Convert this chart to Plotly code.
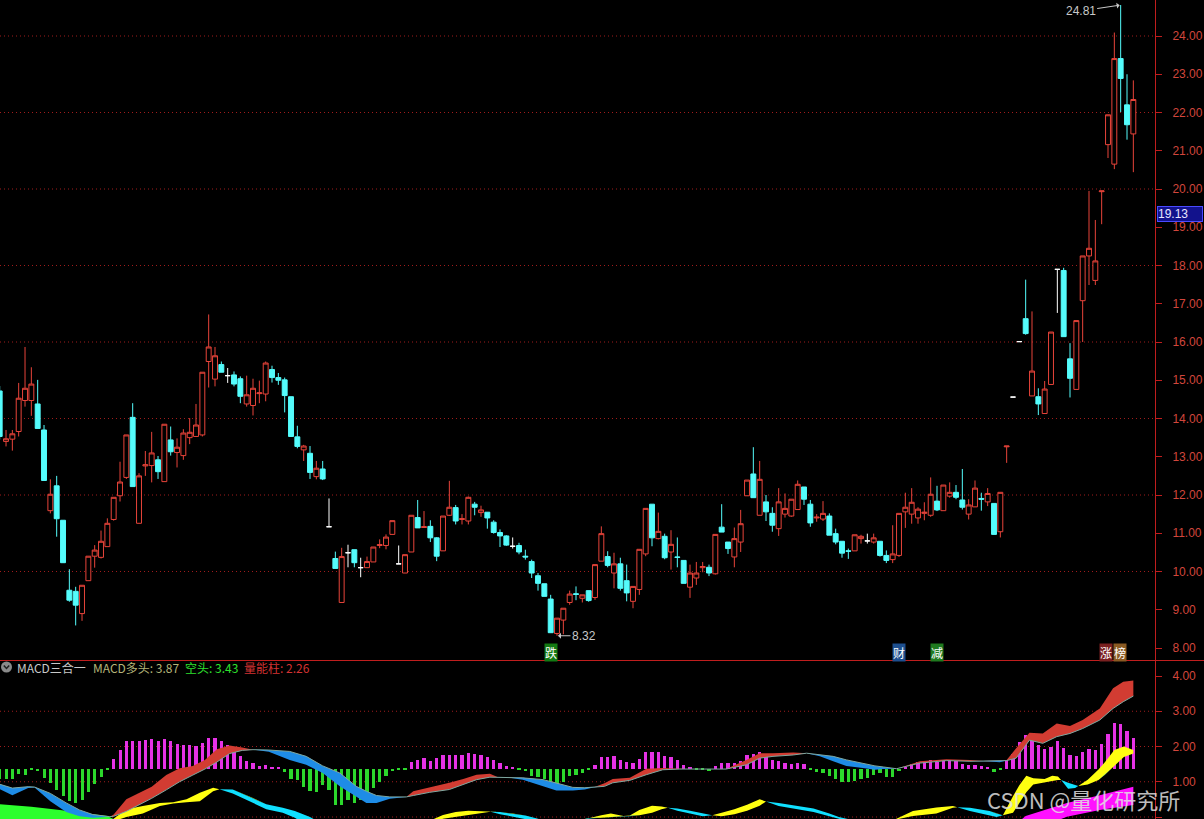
import plotly.graph_objects as go

# ---------------- data ----------------
idx = list(range(180))
opens = [14.72,13.40,13.46,13.66,14.47,14.47,14.38,13.70,11.59,12.24,11.34,9.51,9.48,8.90,9.76,10.40,10.37,10.65,11.36,11.98,
         12.46,14.03,11.26,12.76,12.77,12.92,12.35,13.44,13.11,13.03,13.50,13.53,13.57,15.49,15.03,15.41,15.12,15.14,15.04,14.38,
         14.34,14.65,14.64,15.28,15.07,15.01,14.57,13.52,13.18,13.09,12.48,12.68,11.17,10.34,9.19,10.49,10.57,10.10,10.10,10.25,
         10.68,10.68,10.97,10.20,9.96,10.51,11.41,11.15,11.18,10.88,10.54,11.47,11.67,11.36,11.32,11.76,11.54,11.55,11.29,11.02,
         10.93,10.66,10.68,10.40,10.26,9.89,9.68,9.28,8.38,8.73,9.19,9.42,9.30,9.50,9.32,10.27,10.39,9.96,10.20,9.76,
         9.22,9.53,10.46,11.76,10.86,10.92,10.51,10.38,10.29,9.59,9.83,10.10,10.11,9.94,11.16,10.77,10.38,10.77,11.98,12.55,
         11.47,11.82,11.52,11.12,11.50,11.45,11.62,12.21,11.76,11.40,11.37,11.45,10.99,10.79,10.54,10.54,10.86,10.80,10.77,10.79,
         10.42,10.31,10.42,11.56,11.50,11.40,11.52,11.47,11.84,11.59,11.97,12.07,11.87,11.50,11.69,11.91,11.82,11.78,11.04,13.26,
         14.56,16.01,16.61,14.59,14.57,14.13,14.89,17.90,17.87,15.56,14.76,17.08,18.25,17.61,19.93,21.16,20.65,23.41,22.20,21.44]
highs = [14.85,13.70,13.70,14.93,15.87,15.34,15.01,13.83,12.41,12.50,11.34,10.06,9.60,9.64,10.40,10.69,11.07,11.39,11.94,12.87,
         13.57,14.40,12.57,13.15,13.65,13.02,13.85,13.79,13.48,13.72,14.01,14.38,15.21,16.72,15.87,15.49,15.32,15.23,15.10,15.12,
         15.04,14.99,15.49,15.38,15.19,15.07,14.57,13.81,13.31,13.28,12.89,12.89,11.91,10.52,10.62,10.70,10.57,10.36,10.39,10.64,
         10.84,10.97,11.33,10.68,10.44,11.47,11.87,11.58,11.34,10.90,11.45,12.37,11.74,11.50,11.96,11.82,11.72,11.55,11.34,11.10,
         10.95,10.89,10.75,10.57,10.31,9.96,9.68,9.39,8.78,9.04,9.50,9.61,9.39,9.50,10.18,11.18,10.53,10.49,10.36,10.18,
         9.61,10.58,11.65,11.76,11.54,10.99,11.08,10.89,10.29,10.18,10.25,10.25,10.18,10.97,11.76,10.77,11.15,11.61,12.39,13.25,
         12.89,12.00,11.68,12.18,12.04,11.89,12.38,12.21,11.87,11.50,11.84,11.52,11.12,10.79,10.60,10.96,10.96,10.99,10.99,10.79,
         10.55,11.21,11.52,12.06,12.18,11.68,11.81,12.46,12.24,12.26,12.33,12.26,12.68,11.89,12.38,12.06,12.18,11.78,12.07,13.28,
         14.56,16.01,17.63,16.80,14.79,14.98,16.26,17.90,17.94,15.97,16.56,18.25,19.95,19.19,19.95,21.94,24.09,24.81,23.00,22.84]
lows = [13.45,13.27,13.16,13.53,14.31,14.07,13.74,12.38,11.52,10.91,10.23,9.21,8.59,8.71,9.76,10.10,10.34,10.65,11.33,11.83,
        12.42,12.22,11.26,12.50,12.33,12.42,12.35,13.03,12.72,12.92,13.33,13.53,13.53,14.81,14.84,15.21,14.93,14.84,14.40,14.31,
        14.08,14.40,14.45,14.94,14.88,14.16,13.53,13.22,12.89,12.42,12.41,12.39,11.17,10.08,9.19,10.11,10.11,9.85,10.10,10.25,
        10.61,10.58,10.97,10.20,9.96,10.51,11.14,11.14,10.77,10.27,10.54,11.45,11.23,11.23,11.23,11.47,11.43,11.12,10.99,10.64,
        10.67,10.60,10.45,10.31,9.83,9.50,9.35,8.40,8.32,8.36,9.13,9.25,9.19,9.21,9.26,10.27,10.11,9.56,9.50,9.22,
        9.04,9.39,10.40,10.66,10.84,10.32,10.05,10.11,9.69,9.31,9.65,9.98,9.88,9.92,11.03,10.46,10.11,10.51,11.98,11.93,
        11.47,11.32,11.04,10.93,11.41,11.43,11.62,11.74,11.17,11.30,11.32,10.95,10.71,10.36,10.33,10.54,10.73,10.73,10.73,10.39,
        10.22,10.22,10.38,11.14,11.25,11.25,11.34,11.43,11.58,11.59,11.93,11.89,11.62,11.36,11.69,11.59,11.71,10.97,10.89,12.84,
        14.56,16.01,16.19,14.59,14.09,14.13,14.89,16.76,16.14,14.55,14.76,16.00,17.49,17.49,19.08,20.81,20.52,22.01,21.29,20.44]
closes = [13.53,13.47,13.60,14.53,14.79,14.90,13.74,12.38,12.02,11.38,10.23,9.25,9.12,9.64,10.40,10.56,10.79,11.26,11.94,12.34,
          13.57,12.22,12.50,12.79,13.10,12.61,13.85,13.13,13.25,13.62,13.64,13.83,15.21,15.87,15.64,15.21,15.12,14.90,14.58,14.62,
          14.79,14.67,15.45,15.07,15.00,14.60,13.53,13.27,13.28,12.59,12.70,12.42,11.17,10.08,10.39,10.49,10.23,10.10,10.26,10.64,
          10.70,10.90,11.33,10.20,10.44,11.47,11.14,11.17,10.88,10.40,11.45,11.68,11.32,11.38,11.94,11.68,11.61,11.40,11.02,10.93,
          10.69,10.66,10.51,10.38,9.96,9.69,9.35,8.40,8.78,9.04,9.41,9.40,9.39,9.24,10.18,10.99,10.16,10.20,9.56,9.44,
          9.61,10.58,11.65,10.88,11.05,10.36,10.71,10.37,9.69,9.96,9.96,10.13,9.96,10.97,11.03,10.60,10.86,11.25,12.39,11.93,
          12.41,11.56,11.21,11.82,11.65,11.89,12.28,11.89,11.27,11.42,11.52,10.95,10.77,10.48,10.53,10.96,10.92,10.80,10.88,10.42,
          10.29,10.46,11.52,11.68,11.81,11.63,11.55,12.02,11.61,12.26,12.07,11.94,11.68,11.74,12.18,11.89,12.04,10.97,12.07,13.28,
          14.56,16.01,16.22,15.24,14.38,14.77,16.26,17.90,16.14,15.05,16.56,18.25,18.45,18.12,19.95,21.94,23.41,22.89,21.68,22.34]

# MACD histogram ("量能柱"), drawn from its own baseline
hist_base = 1.37
hist = [-0.30,-0.30,-0.28,-0.15,-0.18,-0.03,-0.07,-0.27,-0.41,-0.60,-0.77,-0.91,-0.97,-0.88,-0.67,-0.44,-0.24,-0.02,
        0.27,0.52,0.78,0.78,0.78,0.81,0.83,0.78,0.85,0.78,0.71,0.68,0.67,0.64,0.74,0.88,0.87,0.78,0.67,0.54,0.36,0.22,
        0.15,0.09,0.10,0.06,0.03,
        -0.08,-0.30,-0.32,-0.51,-0.63,-0.65,-0.45,-0.60,-1.02,-1.02,-0.88,-0.96,-0.88,-0.74,-0.55,-0.37,-0.21,-0.07,-0.04,-0.02,
        0.20,0.24,0.29,0.22,0.29,0.38,0.38,0.38,0.40,0.45,0.43,0.40,0.34,0.24,0.17,0.07,0.03,
        -0.04,-0.07,-0.21,-0.24,-0.30,-0.41,-0.43,-0.39,-0.21,-0.18,-0.11,-0.04,
        0.10,0.32,0.34,0.36,0.26,0.18,0.15,0.27,0.48,0.48,0.48,0.36,0.32,0.24,0.10,0.04,
        -0.04,-0.04,-0.07,
        0.07,0.17,0.17,0.17,0.22,0.38,0.41,0.48,0.38,0.24,0.22,0.15,0.13,0.17,0.13,
        -0.04,-0.08,-0.13,-0.21,-0.30,-0.37,-0.39,-0.34,-0.30,-0.27,-0.18,-0.13,-0.24,-0.24,-0.07,
        0.04,0.13,0.18,0.18,0.24,0.20,0.24,0.26,0.22,0.12,0.10,0.10,0.08,0.06,
        -0.08,-0.04,
        0.24,0.43,0.76,0.95,0.87,0.67,0.57,0.62,0.80,0.60,0.38,0.36,0.48,0.57,0.54,0.69,0.98,1.29,1.27,1.06,0.88]

# band A: MACD多头 (fast) / 空头 (slow)
bandA_x = [0,2,4.5,5.5,8,10.5,12.6,14.7,17.4,18,20,22,24,26.3,28.4,30.5,32.4,34.3,36.3,38.3,40,42.5,45.8,48.4,51,53.7,
           56.3,57.9,59.5,61.6,64.2,65.3,67.9,71,73.2,75.3,77.4,78.7,80.5,82.6,85.8,87.9,90.5,92.4,93.7,95.5,96.8,99.5,
           102.1,104.7,107.4,108.4,111.6,114.7,117.9,120,122.1,125.3,127.4,129.5,131.6,133.7,136.3,138.2,139.5,141.6,
           145.3,149.5,153.2,155.8,157.9,159,160.5,162.6,164.7,166.9,169,171,173.7,175.8,177.4,179]
bandA_bull = [0.79,0.62,0.82,0.84,0.45,0.14,0.02,-0.02,0.01,0.07,0.50,0.67,0.86,1.19,1.38,1.45,1.62,1.92,2.03,1.97,1.91,1.85,
              1.62,1.48,1.25,0.87,0.59,0.40,0.40,0.52,0.57,0.73,0.83,0.97,1.08,1.20,1.23,1.13,1.11,1.06,0.87,0.75,0.75,0.78,
              0.84,0.96,1.08,1.11,1.37,1.39,1.37,1.36,1.34,1.36,1.62,1.81,1.81,1.83,1.81,1.72,1.58,1.45,1.39,1.34,1.36,1.37,
              1.58,1.64,1.62,1.58,1.55,1.62,1.95,2.39,2.37,2.65,2.58,2.75,3.08,3.65,3.84,3.87]
bandA_bear = [0.93,0.82,0.86,0.85,0.67,0.40,0.20,0.07,0.01,0.02,0.16,0.34,0.53,0.77,1.00,1.19,1.36,1.56,1.80,1.89,1.91,1.90,
              1.86,1.72,1.45,1.25,0.87,0.73,0.61,0.57,0.57,0.61,0.70,0.78,0.92,1.06,1.13,1.13,1.13,1.11,1.06,0.97,0.84,0.83,
              0.84,0.87,0.97,1.04,1.20,1.34,1.36,1.36,1.36,1.36,1.48,1.67,1.72,1.76,1.81,1.76,1.72,1.62,1.51,1.45,1.42,1.37,
              1.53,1.60,1.58,1.58,1.58,1.60,1.67,2.18,2.09,2.28,2.37,2.51,2.75,3.08,3.27,3.43]

# band B: yellow / cyan
bandB_x = [15,19,20,22.6,25.3,27.4,29.5,31.6,33.7,34.7,36.8,40,42.1,44.7,46.6,49,52,66,68,70,72,74,76,77.5,79,81,83,85,88,
           91,93,95,96.5,98.5,99.5,101,103,104.5,105.5,107,109,111,112.5,114,116,118,120,121,123,126,128.5,131,132.5,135,
           139,141,142.1,144.2,147.9,150.5,151.2,153.2,156.3,157.4,158.4,160,161,162.1,163.2,165,166.2,167.1,167.6,168.7,
           169.8,170.3,171.8,173.5,174.5,176,177.5,179]
bandB_fast = [-0.45,0.08,0.22,0.31,0.40,0.42,0.50,0.69,0.83,0.79,0.67,0.40,0.22,0.12,-0.02,-0.30,-0.50,-0.40,-0.10,0.06,0.14,
              0.18,0.17,0.15,0.08,0.02,-0.06,-0.20,-0.40,-0.15,-0.04,0.05,0.10,0.03,0.02,0.20,0.32,0.30,0.26,0.18,0.10,0.02,
              0.05,0.12,0.22,0.35,0.50,0.44,0.31,0.22,0.14,0.02,-0.05,-0.20,-0.30,-0.10,0.00,0.17,0.27,0.31,0.28,0.17,0.05,
              0.00,0.05,0.59,0.90,1.17,1.10,1.08,1.17,1.15,1.05,0.80,0.82,0.88,1.06,1.35,1.55,1.90,2.00,1.90]
bandB_slow = [-0.45,-0.06,0.00,0.10,0.31,0.38,0.42,0.45,0.73,0.79,0.78,0.54,0.36,0.26,0.17,0.00,-0.30,-0.30,-0.20,-0.05,0.00,
              0.07,0.12,0.15,0.14,0.10,0.04,-0.05,-0.30,-0.12,-0.03,-0.02,0.00,0.03,0.04,0.05,0.12,0.22,0.26,0.24,0.18,0.10,
              0.05,0.02,0.08,0.18,0.32,0.44,0.40,0.31,0.24,0.10,0.00,-0.10,-0.25,-0.12,-0.05,0.03,0.10,0.26,0.28,0.26,0.17,
              0.10,0.05,0.12,0.40,0.70,0.92,0.99,1.02,1.05,1.05,0.97,0.92,0.88,0.92,1.05,1.20,1.45,1.70,1.80]

# band C: lime / magenta
bandC_x = [0,5,9.5,14,17,19,21,158,160.5,162,165,168.5,173.7,179]
bandC_up = [-0.50,-0.50,-0.45,-0.35,-0.25,-0.20,-0.30,-0.40,-0.20,0.03,0.20,0.40,0.62,0.86]
bandC_dn = [0.36,0.29,0.20,0.10,0.03,-0.15,-0.30,-0.40,-0.45,-0.40,-0.25,0.01,0.20,0.34]

price_ticks = list(range(8, 25))
price_grid = list(range(10, 25, 2))
macd_ticks = [0, 1, 2, 3, 4]
macd_grid = [0, 1, 2, 3]

event_x = [87, 142, 148]
event_text = ["跌", "财", "减"]
event_bg = ["#137a13", "#1d4f8f", "#1f7a1f"]
event2_x = 175.8
last_price = 19.13
hi_idx, hi_val = 177, 24.81
lo_idx, lo_val = 88, 8.32
hdr_bull, hdr_bear, hdr_hist = 3.87, 3.43, 2.26

# ---------------- styling ----------------
RED = "#e8443a"
CYAN = "#54fcfc"
AXRED = "#c01e1e"
LBLRED = "#d2463c"
GRID = "#a01c1c"
W, H = 1204, 819
PLOT_W = 1155
MAIN_BOT = 660
SUB_TOP = 661
XR = [0.05, 182.42]

fig = go.Figure()

up = [i for i in idx if closes[i] > opens[i]]
dn = [i for i in idx if closes[i] < opens[i]]
dj = [i for i in idx if closes[i] == opens[i]]


def candle(sel, inc_col, inc_fill, dec_col, dec_fill):
    return go.Candlestick(
        x=sel, open=[opens[i] for i in sel], high=[highs[i] for i in sel],
        low=[lows[i] for i in sel], close=[closes[i] for i in sel],
        increasing=dict(line=dict(color=inc_col, width=1), fillcolor=inc_fill),
        decreasing=dict(line=dict(color=dec_col, width=1), fillcolor=dec_fill),
        whiskerwidth=0, hoverinfo="skip", xaxis="x", yaxis="y")


fig.add_trace(candle(up, RED, "#000000", RED, "#000000"))
fig.add_trace(candle(dn, CYAN, CYAN, CYAN, CYAN))
fig.add_trace(candle(dj, "#ffffff", "#ffffff", "#ffffff", "#ffffff"))


def band(xs, a, b, col_pos, col_neg, edge=None):
    hi = [max(p, q) for p, q in zip(a, b)]
    lo = [min(p, q) for p, q in zip(a, b)]
    kw = dict(xaxis="x2", yaxis="y2", mode="lines", hoverinfo="skip")
    fig.add_trace(go.Scatter(x=xs, y=b, line=dict(width=0), **kw))
    fig.add_trace(go.Scatter(x=xs, y=hi, line=dict(width=0), fill="tonexty", fillcolor=col_pos, **kw))
    fig.add_trace(go.Scatter(x=xs, y=b, line=dict(width=0), **kw))
    fig.add_trace(go.Scatter(x=xs, y=lo, line=dict(width=0), fill="tonexty", fillcolor=col_neg, **kw))
    if edge:
        fig.add_trace(go.Scatter(x=xs, y=b, line=dict(width=1, color=edge), **kw))


band(bandC_x, bandC_up, bandC_dn, "#ff10ff", "#2cff2c")
band(bandB_x, bandB_fast, bandB_slow, "#ffff10", "#10e0ff")
band(bandA_x, bandA_bull, bandA_bear, "#d23c32", "#1e8ce6", edge="#7fa8a0")

fig.add_trace(go.Bar(
    x=idx, y=hist, base=hist_base, width=0.48,
    marker=dict(color=["#e632e6" if h > 0 else "#2cd82c" for h in hist], line=dict(width=0)),
    hoverinfo="skip", xaxis="x2", yaxis="y2"))

main_dom = [1 - MAIN_BOT / H, 1]
sub_dom = [0, 1 - SUB_TOP / H]
main_rng = [8 - (MAIN_BOT - 648) / 38.25, 8 + 648 / 38.25]
sub_rng = [-(819 - 817) / 35.25, (817 - SUB_TOP) / 35.25]

tickfont = dict(family="Liberation Sans, Arial", size=12, color=LBLRED)
yax_common = dict(side="right", showline=True, linecolor=AXRED, linewidth=1, ticks="outside", ticklen=6,
                  tickcolor=AXRED, tickwidth=1, tickfont=tickfont, zeroline=False, ticklabelstandoff=8,
                  fixedrange=True, showgrid=False)

fig.update_layout(
    width=W, height=H, margin=dict(l=0, r=W - PLOT_W, t=0, b=0),
    paper_bgcolor="#000000", plot_bgcolor="#000000", showlegend=False,
    boxgap=0.12, boxgroupgap=0.12, bargap=0,
    xaxis=dict(domain=[0, 1], range=XR, anchor="y", visible=False, rangeslider=dict(visible=False)),
    xaxis2=dict(domain=[0, 1], range=XR, anchor="y2", matches="x", visible=False),
    yaxis=dict(domain=main_dom, range=main_rng, tickvals=price_ticks,
               ticktext=[f"{v:.2f}" for v in price_ticks], **yax_common),
    yaxis2=dict(domain=sub_dom, range=sub_rng, tickvals=macd_ticks,
                ticktext=[f"{v:.2f}" for v in macd_ticks], **yax_common),
)

# dotted grid lines (main panel every 2, sub panel every 1)
grid_line = dict(color=GRID, width=1, dash="1px,3px")
for v in price_grid:
    fig.add_shape(type="line", xref="x domain", yref="y", x0=0, x1=1, y0=v, y1=v, line=grid_line, layer="below")
for v in macd_grid:
    fig.add_shape(type="line", xref="x2 domain", yref="y2", x0=0, x1=1, y0=v, y1=v, line=grid_line, layer="below")

# panel separator line
fig.add_shape(type="line", xref="paper", yref="paper", x0=0, x1=W / PLOT_W, y0=1 - 660.5 / H, y1=1 - 660.5 / H,
              line=dict(color=AXRED, width=1))

# annotations
lab_font = dict(family="Liberation Sans, Arial", size=12, color="#c8c8c8")
fig.add_annotation(x=hi_idx, y=hi_val, xref="x", yref="y", text=f"{hi_val:.2f}", showarrow=True,
                   arrowhead=1, arrowsize=1, arrowwidth=1, arrowcolor="#c8c8c8", ax=-40, ay=6, font=lab_font,
                   standoff=1)
fig.add_annotation(x=lo_idx, y=lo_val, xref="x", yref="y", text=f"{lo_val:.2f}", showarrow=True,
                   arrowhead=1, arrowsize=1, arrowwidth=1, arrowcolor="#c8c8c8", ax=27, ay=0, font=lab_font,
                   standoff=1)

cjk = "Noto Sans CJK SC"
ev_y = 8 - 4 / 38.25
for ex, et, bg in zip(event_x, event_text, event_bg):
    fig.add_annotation(x=ex, y=ev_y, xref="x", yref="y", text=et, showarrow=False, bgcolor=bg,
                       font=dict(family=cjk, size=12, color="#ffffff"), borderpad=0)
fig.add_annotation(x=event2_x, y=ev_y, xref="x", yref="y", text="涨", showarrow=False, bgcolor="#7a2020",
                   xanchor="right", font=dict(family=cjk, size=12, color="#ffffff"), borderpad=0)
fig.add_annotation(x=event2_x, y=ev_y, xref="x", yref="y", text="榜", showarrow=False, bgcolor="#8a5a22",
                   xanchor="left", font=dict(family=cjk, size=12, color="#ffffff"), borderpad=0)

# current price tag
fig.add_annotation(x=1157 / PLOT_W, y=last_price, xref="paper", yref="y", text=f"{last_price:.2f}",
                   showarrow=False, xanchor="left", yanchor="bottom", align="left", width=44, height=14,
                   bgcolor="#12128c", bordercolor="#4a4aff", borderwidth=1, borderpad=0,
                   font=dict(family="Liberation Sans, Arial", size=12, color="#e6e6ff"))

# sub-panel header
hy = 1 - 667 / H
hdr = [(15, "MACD三合一", "#c8c8c8"), (91, f"MACD多头: {hdr_bull:.2f}", "#b4b478"),
       (183, f"空头: {hdr_bear:.2f}", "#2ee02e"), (242, f"量能柱: {hdr_hist:.2f}", "#d23232")]
for px, txt, col in hdr:
    fig.add_annotation(x=px / PLOT_W, y=hy, xref="paper", yref="paper", text=txt, showarrow=False,
                       xanchor="left", yanchor="middle", font=dict(family=cjk, size=12, color=col))
fig.add_shape(type="circle", xref="paper", yref="paper", x0=1 / PLOT_W, x1=12 / PLOT_W,
              y0=1 - 672.5 / H, y1=1 - 661.5 / H, fillcolor="#8a8a8a", line=dict(width=0))
fig.add_shape(type="path", xref="paper", yref="paper",
              path=f"M {3.8 / PLOT_W},{1 - 665.5 / H} L {6.5 / PLOT_W},{1 - 668.5 / H} L {9.2 / PLOT_W},{1 - 665.5 / H}",
              line=dict(color="#202020", width=1.5))

# watermark
fig.add_annotation(x=985 / PLOT_W, y=1 - 799 / H, xref="paper", yref="paper", text="CSDN @量化研究所",
                   showarrow=False, xanchor="left", yanchor="middle",
                   font=dict(family=cjk, size=22, color="rgba(225,225,225,0.85)"))

fig.write_html("out.html", config={"displayModeBar": False},
               post_script="document.body.style.margin='0';document.body.style.overflow='hidden';"
                           "document.body.style.background='#000';")
